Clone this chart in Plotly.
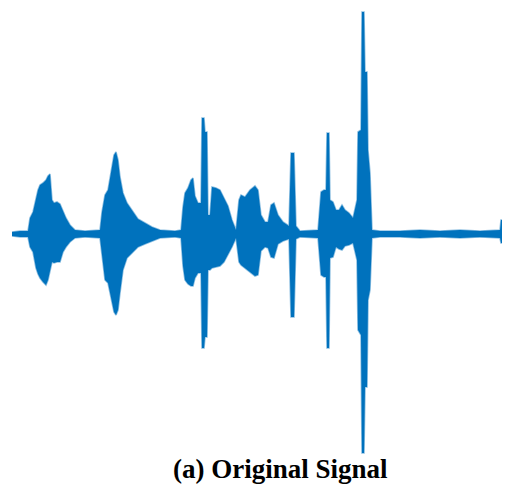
import plotly.graph_objects as go

# Time (s) and upper / lower amplitude envelope of the waveform
time_s = [0.00, 0.08, 0.16, 0.18, 0.21, 0.24, 0.26, 0.28, 0.31, 0.34, 0.36, 0.38, 0.40, 0.42, 0.45, 0.48,
          0.51, 0.54, 0.58, 0.63, 0.73, 0.88, 0.90, 0.93, 0.96, 0.99, 1.02, 1.04, 1.06, 1.08, 1.11, 1.15,
          1.20, 1.26, 1.33, 1.40, 1.48, 1.63, 1.69, 1.71, 1.73, 1.76, 1.79, 1.81, 1.83, 1.86, 1.89, 1.90,
          1.92, 1.93, 1.95, 1.96, 1.98, 2.00, 2.04, 2.08, 2.12, 2.16, 2.20, 2.24, 2.27, 2.29, 2.33, 2.38,
          2.43, 2.46, 2.49, 2.53, 2.56, 2.59, 2.62, 2.66, 2.71, 2.77, 2.79, 2.82, 2.84, 2.88, 3.06, 3.09,
          3.12, 3.14, 3.15, 3.17, 3.18, 3.21, 3.24, 3.27, 3.30, 3.33, 3.37, 3.41, 3.45, 3.46, 3.49, 3.50,
          3.52, 3.53, 3.55, 3.56, 3.58, 3.60, 3.68, 3.88, 4.08, 4.28, 4.48, 4.68, 4.88, 4.89, 4.91, 4.92,
          4.94]
upper = [0.02, 0.03, 0.03, 0.16, 0.22, 0.36, 0.44, 0.49, 0.51, 0.54, 0.58, 0.60, 0.34, 0.31, 0.32, 0.30,
         0.22, 0.16, 0.09, 0.04, 0.03, 0.04, 0.22, 0.39, 0.44, 0.60, 0.79, 0.82, 0.74, 0.57, 0.41, 0.31,
         0.24, 0.15, 0.11, 0.07, 0.04, 0.03, 0.04, 0.27, 0.41, 0.46, 0.54, 0.56, 0.38, 0.31, 0.31, 1.16,
         1.16, 1.02, 1.02, 0.19, 0.19, 0.47, 0.46, 0.44, 0.36, 0.28, 0.14, 0.04, 0.34, 0.39, 0.37, 0.44,
         0.48, 0.44, 0.19, 0.12, 0.12, 0.29, 0.31, 0.19, 0.12, 0.08, 0.81, 0.81, 0.08, 0.03, 0.04, 0.42,
         0.44, 0.44, 1.01, 1.01, 0.34, 0.32, 0.24, 0.24, 0.29, 0.24, 0.21, 0.16, 0.34, 1.02, 1.04, 2.22,
         2.22, 1.62, 1.62, 0.84, 0.61, 0.04, 0.03, 0.03, 0.04, 0.03, 0.04, 0.03, 0.04, 0.14, 0.14, 0.04,
         0.02]
lower = [-0.02, -0.03, -0.03, -0.13, -0.18, -0.34, -0.40, -0.44, -0.48, -0.51, -0.46, -0.36, -0.28, -0.29, -0.28, -0.28,
         -0.18, -0.13, -0.08, -0.04, -0.03, -0.04, -0.21, -0.46, -0.49, -0.62, -0.78, -0.81, -0.76, -0.59, -0.36, -0.24,
         -0.19, -0.13, -0.10, -0.07, -0.04, -0.03, -0.04, -0.32, -0.46, -0.50, -0.52, -0.52, -0.44, -0.39, -0.39, -1.14,
         -1.14, -1.03, -1.03, -0.36, -0.36, -0.34, -0.33, -0.32, -0.28, -0.21, -0.13, -0.04, -0.28, -0.31, -0.34, -0.38,
         -0.42, -0.41, -0.17, -0.13, -0.14, -0.23, -0.24, -0.10, -0.07, -0.05, -0.83, -0.83, -0.05, -0.03, -0.04, -0.41,
         -0.43, -0.43, -1.14, -1.14, -0.24, -0.23, -0.13, -0.15, -0.16, -0.12, -0.11, -0.09, -0.26, -0.96, -1.01, -2.19,
         -2.19, -1.53, -1.53, -0.66, -0.56, -0.04, -0.03, -0.03, -0.04, -0.03, -0.04, -0.03, -0.04, -0.09, -0.09, -0.04,
         -0.02]

caption = "(a) Original Signal"

blue = "rgb(0,114,189)"
edge = "rgba(0,114,189,0.45)"

fig = go.Figure()
fig.add_trace(go.Scatter(x=time_s, y=lower, mode="lines",
                         line=dict(color=edge, width=1.6), hoverinfo="skip", showlegend=False))
fig.add_trace(go.Scatter(x=time_s, y=upper, mode="lines", fill="tonexty", fillcolor=blue,
                         line=dict(color=edge, width=1.6), hoverinfo="skip", showlegend=False))

# the page body adds an 8 px margin, so the plot area is laid out 8 px up/left of the reference
fig.update_layout(
    width=502, height=484,
    margin=dict(l=0, r=0, t=0, b=34),
    paper_bgcolor="white", plot_bgcolor="white",
    xaxis=dict(range=[-0.04, 4.98], visible=False, showgrid=False, zeroline=False),
    yaxis=dict(range=[-2.24, 2.26], visible=False, showgrid=False, zeroline=False),
    annotations=[dict(text="<b>" + caption + "</b>", xref="paper", yref="paper",
                      x=0.542, y=-0.025, xanchor="center", yanchor="middle", showarrow=False,
                      borderpad=0,
                      font=dict(family="Liberation Serif, Times New Roman, serif", size=27, color="black"))],
)

fig.write_html("out.html")
